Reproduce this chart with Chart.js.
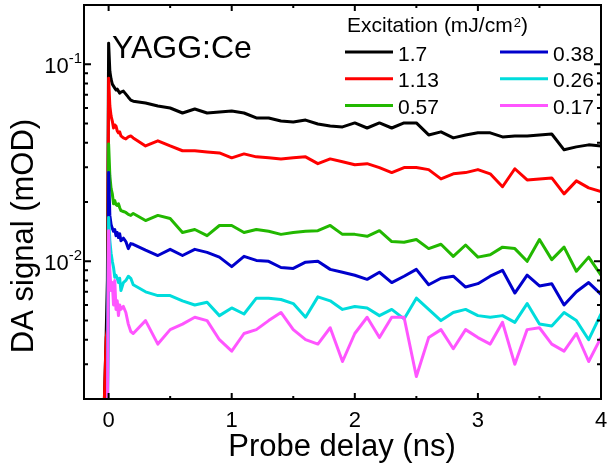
<!DOCTYPE html>
<html>
<head>
<meta charset="utf-8">
<title>YAGG:Ce DA signal</title>
<script src="https://cdn.jsdelivr.net/npm/chart.js@4/dist/chart.umd.min.js"></script>
<style>
  body { margin: 0; background: #fff; }
  #wrap { width: 608px; height: 467px; }
</style>
</head>
<body>
<div id="wrap"><canvas id="daChart"></canvas></div>
<script>
// probe delays (ns), shared by all traces
const delay = [
  -0.04, -0.02, -0.01, 0, 0.01, 0.02, 0.03, 0.04, 0.05, 0.06, 0.07, 0.08, 0.09, 0.1, 0.12, 0.14, 0.16, 0.18, 0.2,
  0.3, 0.4, 0.5, 0.6, 0.7, 0.8, 0.9, 1.0,
  1.1, 1.2, 1.3, 1.4, 1.5, 1.6, 1.7, 1.8, 1.9, 2.0,
  2.1, 2.2, 2.3, 2.4, 2.5, 2.6, 2.7, 2.8, 2.9, 3.0,
  3.1, 3.2, 3.3, 3.4, 3.5, 3.6, 3.7, 3.8, 3.9, 4.0
];

// excitation fluence (mJ/cm2) of each trace
const fluence = ['1.7', '1.13', '0.57', '0.38', '0.26', '0.17'];
const colors = ['#000000', '#ff0000', '#22b800', '#0000cc', '#00dcdc', '#ff55ff'];

// DA signal (mOD)
const da170 = [
  0.0015, 0.0042, 0.0080, 0.128, 0.0922, 0.084, 0.0793, 0.0775, 0.0757, 0.074, 0.0748, 0.0731, 0.0714, 0.0722, 0.0731, 0.0706, 0.0681, 0.0658, 0.065,
  0.0636, 0.0614, 0.060, 0.0566, 0.0593, 0.0566, 0.0572, 0.0579,
  0.0566, 0.0534, 0.0534, 0.0515, 0.0509, 0.0521, 0.0498, 0.0486, 0.0481, 0.0504,
  0.0475, 0.0504, 0.0475, 0.0504, 0.0504, 0.0438, 0.0454, 0.0423, 0.0438, 0.0449,
  0.0449, 0.0428, 0.0433, 0.0433, 0.0438, 0.0443, 0.0368, 0.0381, 0.039, 0.0385
];
const da113 = [
  0.0015, 0.0041, 0.0045, 0.085, 0.0614, 0.0546, 0.0515, 0.0475, 0.0492, 0.0486, 0.0459, 0.0449, 0.0454, 0.0433, 0.0423, 0.0418, 0.0428, 0.0433, 0.0423,
  0.0385, 0.0409, 0.0385, 0.0364, 0.0364, 0.0359, 0.0355, 0.0335,
  0.0351, 0.0339, 0.0335, 0.0331, 0.0335, 0.0339, 0.0313, 0.0331, 0.032, 0.0309,
  0.0313, 0.0299, 0.0282, 0.0299, 0.0299, 0.0292, 0.0262, 0.0278, 0.0282, 0.0292,
  0.0278, 0.0239, 0.0295, 0.0259, 0.0262, 0.0265, 0.022, 0.0256, 0.0236, 0.0226
];
const da057 = [
  0.0015, 0.0015, 0.0015, 0.0394, 0.0272, 0.0234, 0.022, 0.0196, 0.0203, 0.0194, 0.0192, 0.0196, 0.0187, 0.0181, 0.0179, 0.0177, 0.0173, 0.0171, 0.0175,
  0.0161, 0.0171, 0.0165, 0.014, 0.0145, 0.0135, 0.0152, 0.0152,
  0.014, 0.0145, 0.0142, 0.0137, 0.014, 0.0142, 0.0143, 0.0152, 0.0137, 0.0137,
  0.0134, 0.0143, 0.0126, 0.0125, 0.0129, 0.0116, 0.0122, 0.0106, 0.0121, 0.0105,
  0.0108, 0.0118, 0.0116, 0.010, 0.0129, 0.0102, 0.0118, 0.0089, 0.0105, 0.0085
];
const da038 = [
  0.0015, 0.0015, 0.0015, 0.0282, 0.0171, 0.0154, 0.0147, 0.0142, 0.0145, 0.0135, 0.014, 0.0132, 0.0138, 0.0127, 0.0131, 0.0126, 0.0116, 0.0123, 0.0122,
  0.0114, 0.0107, 0.0115, 0.0107, 0.0115, 0.0111, 0.0105, 0.0094,
  0.0106, 0.0101, 0.010, 0.0093, 0.0092, 0.0099, 0.010, 0.0091, 0.0088, 0.0085,
  0.0081, 0.0088, 0.0078, 0.0084, 0.0091, 0.0076, 0.0082, 0.0084, 0.0074, 0.0077,
  0.0084, 0.009, 0.0069, 0.0085, 0.0075, 0.0077, 0.006, 0.007, 0.0078, 0.0068
];
const da026 = [
  0.0015, 0.0015, 0.0015, 0.0167, 0.0127, 0.011, 0.010, 0.0093, 0.0083, 0.0085, 0.0082, 0.0078, 0.0082, 0.0071, 0.0078, 0.008, 0.0084, 0.0082, 0.0076,
  0.007, 0.0067, 0.0067, 0.0063, 0.006, 0.0062, 0.0053, 0.0058,
  0.0054, 0.0065, 0.0065, 0.0064, 0.0061, 0.0052, 0.0066, 0.0063, 0.0057, 0.0059,
  0.0058, 0.0053, 0.0057, 0.0051, 0.0065, 0.0057, 0.005, 0.0055, 0.0057, 0.0053,
  0.0052, 0.0053, 0.0049, 0.0061, 0.0048, 0.0047, 0.0055, 0.005, 0.004, 0.0054
];
const da017 = [
  0.0015, 0.0015, 0.0015, 0.0143, 0.009, 0.0071, 0.0078, 0.006, 0.008, 0.0057, 0.0063, 0.0053, 0.006, 0.0057, 0.0059, 0.0055, 0.0048, 0.0044, 0.0043,
  0.005, 0.0038, 0.0045, 0.0048, 0.0052, 0.005, 0.004, 0.0035,
  0.0043, 0.0045, 0.005, 0.0055, 0.0045, 0.004, 0.0038, 0.0046, 0.0031, 0.0043,
  0.0052, 0.0041, 0.0052, 0.0052, 0.0026, 0.0041, 0.0045, 0.0036, 0.0045, 0.0041,
  0.0038, 0.0049, 0.003, 0.0045, 0.0046, 0.0038, 0.0035, 0.0043, 0.0031, 0.0041
];
const traces = [da170, da113, da057, da038, da026, da017];

// axis ticks
const xMajor = [0, 1, 2, 3, 4];
const xMinor = [0.5, 1.5, 2.5, 3.5];
const yMajor = [0.01, 0.1];
const yExp = ['-2', '-1'];
const yMinor = [0.003, 0.004, 0.005, 0.006, 0.007, 0.008, 0.009,
                0.02, 0.03, 0.04, 0.05, 0.06, 0.07, 0.08, 0.09];

const FONT = '"Liberation Sans", Arial, Helvetica, sans-serif';

// frame, inward ticks, labels and the two-column legend
const framePlugin = {
  id: 'frame',
  afterDraw(chart) {
    const { ctx, chartArea: a } = chart;
    const x = chart.scales.x, y = chart.scales.y;
    ctx.save();
    ctx.strokeStyle = '#000';
    ctx.fillStyle = '#000';
    ctx.lineWidth = 2;

    ctx.beginPath();
    xMajor.forEach(v => {
      const px = x.getPixelForValue(v);
      ctx.moveTo(px, a.bottom); ctx.lineTo(px, a.bottom - 6);
      ctx.moveTo(px, a.top); ctx.lineTo(px, a.top + 6);
    });
    xMinor.forEach(v => {
      const px = x.getPixelForValue(v);
      ctx.moveTo(px, a.bottom); ctx.lineTo(px, a.bottom - 3);
      ctx.moveTo(px, a.top); ctx.lineTo(px, a.top + 3);
    });
    yMajor.forEach(v => {
      const py = y.getPixelForValue(v);
      ctx.moveTo(a.left, py); ctx.lineTo(a.left + 7, py);
      ctx.moveTo(a.right, py); ctx.lineTo(a.right - 7, py);
    });
    yMinor.forEach(v => {
      const py = y.getPixelForValue(v);
      ctx.moveTo(a.left, py); ctx.lineTo(a.left + 4, py);
      ctx.moveTo(a.right, py); ctx.lineTo(a.right - 4, py);
    });
    ctx.stroke();
    ctx.strokeRect(a.left, a.top, a.right - a.left, a.bottom - a.top);

    // x tick labels
    ctx.font = '22px ' + FONT;
    ctx.textAlign = 'center';
    ctx.textBaseline = 'alphabetic';
    xMajor.forEach(v => ctx.fillText(String(v), x.getPixelForValue(v), a.bottom + 28));

    // y tick labels as 10 with a raised exponent
    yMajor.forEach((v, i) => {
      const py = y.getPixelForValue(v);
      ctx.textAlign = 'right';
      ctx.font = '15px ' + FONT;
      ctx.fillText(yExp[i], a.left - 2, py - 1);
      const w = ctx.measureText(yExp[i]).width;
      ctx.font = '22px ' + FONT;
      ctx.fillText('10', a.left - 2 - w, py + 9);
    });

    // axis titles
    ctx.font = '31px ' + FONT;
    ctx.textAlign = 'center';
    ctx.fillText('Probe delay (ns)', 342, 456);
    ctx.save();
    ctx.translate(33, 236);
    ctx.rotate(-Math.PI / 2);
    ctx.fillText('DA signal (mOD)', 0, 0);
    ctx.restore();

    // sample name
    ctx.textAlign = 'left';
    ctx.font = '32px ' + FONT;
    ctx.fillText('YAGG:Ce', 112, 58);

    // legend title with cm^2
    ctx.font = '21px ' + FONT;
    let tx = 347;
    ctx.fillText('Excitation (mJ/cm', tx, 32);
    tx += ctx.measureText('Excitation (mJ/cm').width;
    ctx.font = '13px ' + FONT;
    ctx.fillText('2', tx + 1, 27);
    tx += ctx.measureText('2').width + 1;
    ctx.font = '21px ' + FONT;
    ctx.fillText(')', tx, 32);

    // legend entries, filled column by column
    ctx.lineWidth = 3;
    fluence.forEach((lab, i) => {
      const col = Math.floor(i / 3), row = i % 3;
      const lx = col === 0 ? 345 : 500;
      const ly = 52 + row * 26.7;
      ctx.strokeStyle = colors[i];
      ctx.beginPath();
      ctx.moveTo(lx, ly); ctx.lineTo(lx + 48, ly);
      ctx.stroke();
      ctx.fillStyle = '#000';
      ctx.fillText(lab, lx + 53, ly + 8.5);
    });
    ctx.restore();
  }
};

const ctx = document.getElementById('daChart').getContext('2d');

const daChart = new Chart(ctx, {
  type: 'line',
  data: {
    datasets: traces.map((vals, i) => ({
      label: fluence[i],
      data: delay.map((t, k) => ({ x: t, y: vals[k] })),
      borderColor: colors[i],
      borderWidth: 3,
      pointRadius: 0,
      tension: 0,
      fill: false,
      borderJoinStyle: 'round',
      order: traces.length - 1 - i
    }))
  },
  options: {
    responsive: true,
    maintainAspectRatio: false,
    animation: false,
    devicePixelRatio: 1,
    layout: { padding: { left: 84, top: 5, right: 7, bottom: 68 } },
    plugins: { legend: { display: false }, tooltip: { enabled: false } },
    scales: {
      x: { type: 'linear', min: -0.2, max: 4, display: false },
      y: { type: 'logarithmic', min: 0.002, max: 0.2, display: false }
    }
  },
  plugins: [framePlugin]
});
</script>
</body>
</html>
